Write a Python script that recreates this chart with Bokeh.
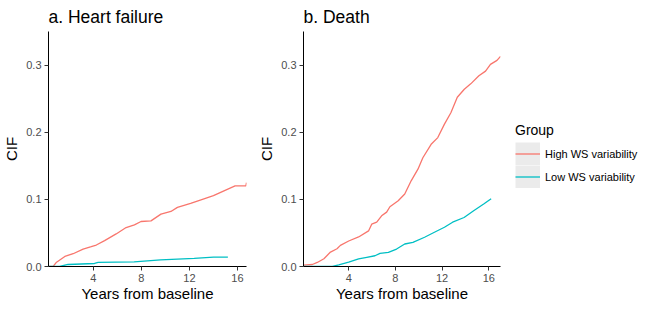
from bokeh.plotting import figure
from bokeh.models import Range1d, FixedTicker, PrintfTickFormatter, Legend, LegendItem
from bokeh.layouts import row
from bokeh.embed import file_html
from bokeh.resources import INLINE

# ---- data ----
hf_high_t = [0.27, 0.65, 0.94, 1.63, 2.32, 3.15, 3.83, 4.25, 4.94, 5.9, 6.73, 7.42, 7.97, 8.8,
             9.63, 10.46, 11.0, 12.1, 12.9, 14.0, 15.15, 15.8, 16.7, 16.75]
hf_high_v = [0.0, 0.0, 0.0064, 0.015, 0.019, 0.026, 0.0297, 0.032, 0.0386, 0.0485, 0.058, 0.062,
             0.067, 0.068, 0.078, 0.082, 0.088, 0.094, 0.099, 0.1055, 0.115, 0.12, 0.12, 0.125]
hf_low_t = [0.27, 1.2, 1.9, 4.1, 4.4, 7.4, 9.6, 12.4, 14.0, 15.2]
hf_low_v = [0.0, 0.0, 0.003, 0.0045, 0.006, 0.007, 0.01, 0.012, 0.014, 0.014]

d_high_t = [0.13, 0.89, 1.31, 1.88, 2.44, 3.0, 3.29, 4.0, 4.85, 5.7, 5.97, 6.4, 6.82, 7.25, 7.53,
            8.24, 8.8, 9.36, 9.93, 10.35, 11.06, 11.63, 12.2, 12.75, 13.3, 13.9, 14.45, 15.15,
            15.72, 16.14, 16.7, 17.0]
d_high_v = [0.002, 0.003, 0.006, 0.0116, 0.0215, 0.0265, 0.0315, 0.038, 0.044, 0.053, 0.063, 0.066,
            0.0755, 0.081, 0.089, 0.098, 0.108, 0.128, 0.145, 0.162, 0.182, 0.192, 0.212, 0.229,
            0.252, 0.264, 0.272, 0.284, 0.291, 0.301, 0.307, 0.313]
d_low_t = [0.13, 2.6, 3.15, 4.0, 4.85, 5.55, 6.25, 6.68, 7.4, 8.1, 8.8, 9.5, 10.5, 11.34, 12.2,
           12.9, 13.88, 14.7, 15.56, 16.2]
d_low_v = [0.0, 0.0, 0.0025, 0.0064, 0.0114, 0.0137, 0.016, 0.0195, 0.021, 0.026, 0.0335, 0.036,
           0.0436, 0.051, 0.0585, 0.066, 0.073, 0.083, 0.093, 0.101]

groups = ["High WS variability", "Low WS variability"]
colors = ["#F8766D", "#00BFC4"]
x_ticks = [4, 8, 12, 16]
y_ticks = [0.0, 0.1, 0.2, 0.3]
titles = ["a. Heart failure", "b. Death"]

FONT = "Liberation Sans"
H = 305


def make_panel(title, xr, w, left, right, ht, hv, lt, lv):
    p = figure(width=w, height=H, x_range=Range1d(*xr), y_range=Range1d(0, 0.35),
               output_backend="svg", toolbar_location=None,
               min_border_left=left, min_border_right=right,
               min_border_top=31, min_border_bottom=39)
    p.title.text = title
    p.title.text_font = FONT
    p.title.text_font_size = "17.5px"
    p.title.text_font_style = "normal"
    p.title.text_color = "black"
    p.title.align = "left"
    p.title.offset = 0
    p.title.standoff = 9
    p.grid.visible = False
    p.outline_line_color = None
    for ax in (p.xaxis[0], p.yaxis[0]):
        ax.axis_line_color = "black"
        ax.axis_line_width = 1
        ax.major_tick_line_color = "#333333"
        ax.major_tick_in = 0
        ax.major_tick_out = 4
        ax.minor_tick_line_color = None
        ax.major_label_text_font = FONT
        ax.major_label_text_font_size = "11px"
        ax.major_label_text_color = "#4d4d4d"
        ax.major_label_standoff = 3
        ax.axis_label_text_font = FONT
        ax.axis_label_text_font_size = "15px"
        ax.axis_label_text_font_style = "normal"
        ax.axis_label_text_color = "black"
    p.xaxis.axis_label_standoff = 0
    p.yaxis.axis_label_standoff = 3
    p.xaxis.ticker = FixedTicker(ticks=x_ticks)
    p.yaxis.ticker = FixedTicker(ticks=y_ticks)
    p.yaxis.formatter = PrintfTickFormatter(format="%.1f")
    p.xaxis.axis_label = "Years from baseline"
    p.yaxis.axis_label = "CIF"
    rh = p.line(ht, hv, line_color=colors[0], line_width=1.3)
    rl = p.line(lt, lv, line_color=colors[1], line_width=1.3)
    return p, rh, rl


pa, _, _ = make_panel(titles[0], (0.27, 16.75), 255, 47, 9,
                      hf_high_t, hf_high_v, hf_low_t, hf_low_v)
pb, _, _ = make_panel(titles[1], (0.13, 17.0), 255, 46, 10,
                      d_high_t, d_high_v, d_low_t, d_low_v)

# separate legend panel: its ranges lie far outside the data, so its series
# renderers draw nothing in the frame and only serve the legend keys
pl = figure(width=140, height=H, x_range=Range1d(100, 101), y_range=Range1d(100, 101),
            output_backend="svg", toolbar_location=None,
            x_axis_location=None, y_axis_location=None,
            min_border_left=0, min_border_right=0, min_border_top=0, min_border_bottom=0)
pl.grid.visible = False
pl.outline_line_color = None
series = [(d_high_t, d_high_v), (d_low_t, d_low_v)]
key_renderers = []
for c, (t, v) in zip(colors, series):
    bg = pl.line(t, v, line_color="#EBEBEB", line_width=23, line_cap="butt")
    ln = pl.line(t, v, line_color=c, line_width=1.3)
    key_renderers.append([bg, ln])

legend = Legend(items=[LegendItem(label=g, renderers=r) for g, r in zip(groups, key_renderers)],
                location=(5, 78), title="Group",
                title_text_font=FONT, title_text_font_size="14px", title_text_font_style="normal",
                title_text_color="black", title_standoff=4,
                label_text_font=FONT, label_text_font_size="11px", label_text_color="black",
                glyph_width=25, glyph_height=23, label_height=23, label_standoff=5,
                spacing=0, padding=5, margin=0,
                background_fill_alpha=0, border_line_color=None)
pl.add_layout(legend)

layout = row(pa, pb, pl)
open("out.html", "w").write(file_html(layout, INLINE))
